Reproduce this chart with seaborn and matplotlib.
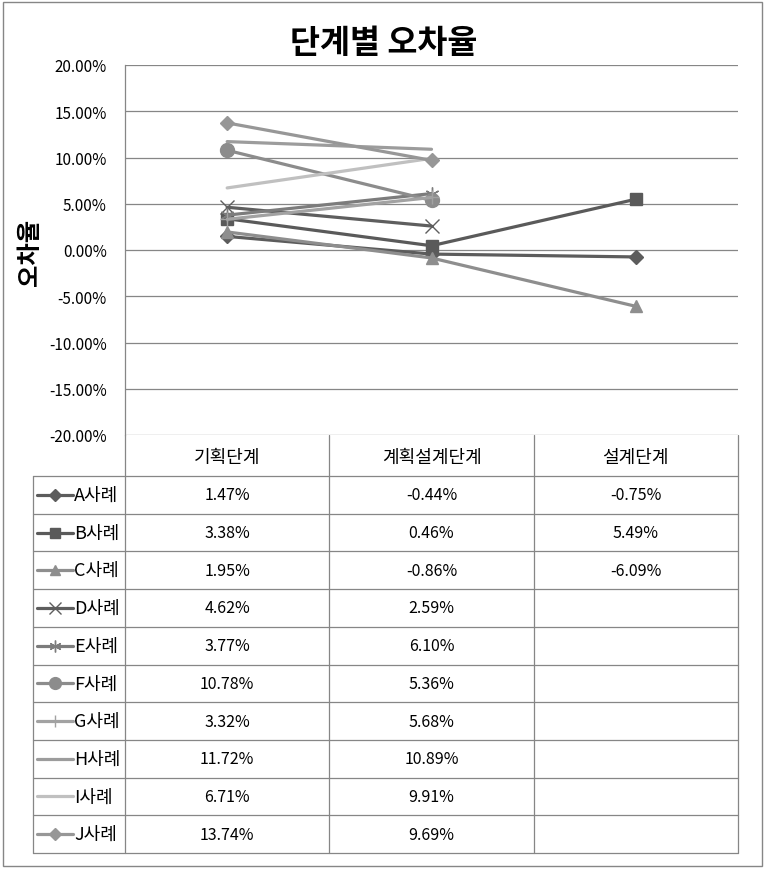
import numpy as np
import pandas as pd
import matplotlib
matplotlib.use("Agg")
import matplotlib.pyplot as plt
import seaborn as sns
from matplotlib.patches import Rectangle

sns.set_theme(style="white")
plt.rcParams['font.family'] = ['Noto Sans CJK KR', 'DejaVu Sans']

# ---- data ----
categories = ["기획단계", "계획설계단계", "설계단계"]
series_names = ["A사례", "B사례", "C사례", "D사례", "E사례",
                "F사례", "G사례", "H사례", "I사례", "J사례"]
A = [1.47, -0.44, -0.75]
B = [3.38, 0.46, 5.49]
C = [1.95, -0.86, -6.09]
D = [4.62, 2.59, np.nan]
E = [3.77, 6.10, np.nan]
F = [10.78, 5.36, np.nan]
G = [3.32, 5.68, np.nan]
H = [11.72, 10.89, np.nan]
I = [6.71, 9.91, np.nan]
J = [13.74, 9.69, np.nan]
values = [A, B, C, D, E, F, G, H, I, J]
yticks = [-20, -15, -10, -5, 0, 5, 10, 15, 20]

colors = ["#5c5c5c", "#5a5a5a", "#8e8e8e", "#5e5e5e", "#7c7c7c",
          "#8c8c8c", "#a2a2a2", "#9c9c9c", "#c0c0c0", "#979797"]
markers = ["D", "s", "^", "x", (6, 2, 0), "o", "+", "", "", "D"]
msizes = [7, 9, 9, 10, 10, 10, 10, 0, 0, 7]

W, H_ = 764, 870
fig = plt.figure(figsize=(W / 100, H_ / 100), dpi=100)

left, right, top, bottom = 125, 738, 66, 436
ax = fig.add_axes([left / W, 1 - bottom / H_, (right - left) / W, (bottom - top) / H_])

grid_c = "#868686"
for yt in yticks:
    ax.axhline(yt, color=grid_c, lw=0.9, zorder=0)

xs = np.arange(len(categories))
for name, vals, c, m, ms in zip(series_names, values, colors, markers, msizes):
    df = pd.DataFrame({"x": xs, "y": vals}).dropna()
    kws = dict(color=c, linewidth=2.3, legend=False, ax=ax)
    if m != "":
        kws.update(marker=m, markersize=ms, markeredgecolor=c,
                   markerfacecolor=c, markeredgewidth=1.0)
    sns.lineplot(data=df, x="x", y="y", **kws)

ax.set_xlim(-0.5, len(categories) - 0.5)
ax.set_ylim(-20, 20)
ax.set_yticks(yticks)
ax.set_yticklabels([f"{v:.2f}%" for v in yticks], fontsize=11)
ax.set_xticks([])
ax.set_xlabel("")
ax.set_ylabel("")
ax.tick_params(axis="y", length=0, pad=13, colors="black")
for s in ["top", "right", "bottom"]:
    ax.spines[s].set_visible(False)
ax.spines["left"].set_color(grid_c)
ax.spines["left"].set_linewidth(0.9)
ax.set_facecolor("none")

# ---- overlay in pixel coordinates for title, table, border ----
ov = fig.add_axes([0, 0, 1, 1], zorder=-1)
ov.set_xlim(0, W)
ov.set_ylim(H_, 0)
ov.axis("off")

ov.add_patch(Rectangle((3, 3), 759, 864, fill=False, edgecolor=grid_c, lw=1.0))
ov.text(384, 44, "단계별 오차율", fontsize=23.5, fontweight="bold",
        ha="center", va="center", color="black")
ov.text(30, 252, "오차율", fontsize=17.5, fontweight="bold", rotation=90,
        ha="center", va="center", color="black")

# table geometry
tab_left = 33
col_w = (right - left) / len(categories)
col_x = [left + i * col_w for i in range(len(categories) + 1)]
header_bottom = 477
tab_bottom = 854
row_h = (tab_bottom - header_bottom) / len(series_names)

lw = 0.9
for cx in col_x:
    ov.plot([cx, cx], [bottom, tab_bottom], color=grid_c, lw=lw)
ov.plot([tab_left, tab_left], [header_bottom, tab_bottom], color=grid_c, lw=lw)
ov.plot([tab_left, right], [header_bottom, header_bottom], color=grid_c, lw=lw)
for r in range(1, len(series_names) + 1):
    yy = header_bottom + r * row_h
    ov.plot([tab_left, right], [yy, yy], color=grid_c, lw=lw)

# header
for i, cat in enumerate(categories):
    ov.text((col_x[i] + col_x[i + 1]) / 2, (bottom + header_bottom) / 2 + 1, cat,
            fontsize=13, ha="center", va="center", color="black")

# rows
for r, (name, vals, c, m, ms) in enumerate(zip(series_names, values, colors, markers, msizes)):
    yc = header_bottom + (r + 0.5) * row_h
    ov.plot([37, 73], [yc, yc], color=c, lw=2.3)
    if m != "":
        ov.plot([55], [yc], marker=m, markersize=ms * 0.85, color=c,
                markeredgecolor=c, markeredgewidth=1.0)
    ov.text(74, yc, name, fontsize=13, ha="left", va="center", color="black")
    for i, v in enumerate(vals):
        if not np.isnan(v):
            ov.text((col_x[i] + col_x[i + 1]) / 2, yc, f"{v:.2f}%",
                    fontsize=11.5, ha="center", va="center", color="black")

fig.savefig("out.png", dpi=100, facecolor="white")
